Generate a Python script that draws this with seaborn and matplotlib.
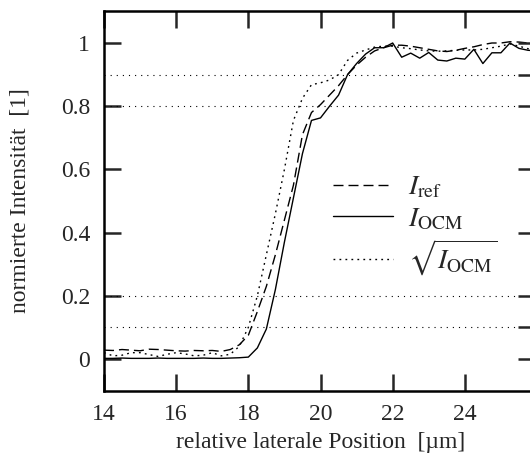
import numpy as np
import pandas as pd
import seaborn as sns
import matplotlib
matplotlib.use("Agg")
import matplotlib.pyplot as plt

# lateral positions (µm)
position = [14.00, 14.25, 14.50, 14.75, 15.00, 15.25, 15.50, 15.75, 16.00, 16.25,
            16.50, 16.75, 17.00, 17.25, 17.50, 17.75, 18.00, 18.25, 18.50, 18.75,
            19.00, 19.25, 19.50, 19.75, 20.00, 20.25, 20.50, 20.75, 21.00, 21.25,
            21.50, 21.75, 22.00, 22.25, 22.50, 22.75, 23.00, 23.25, 23.50, 23.75,
            24.00, 24.25, 24.50, 24.75, 25.00, 25.25, 25.50, 25.75, 26.00]

# reference intensity
i_ref = [0.028, 0.027, 0.030, 0.028, 0.026, 0.031, 0.030, 0.028, 0.026, 0.025,
         0.027, 0.026, 0.027, 0.024, 0.030, 0.045, 0.075, 0.150, 0.230, 0.330,
         0.440, 0.550, 0.710, 0.780, 0.805, 0.835, 0.865, 0.900, 0.930, 0.955,
         0.975, 0.985, 0.993, 0.993, 0.990, 0.985, 0.980, 0.975, 0.973, 0.977,
         0.983, 0.988, 0.995, 1.000, 1.000, 1.004, 1.003, 1.000, 1.000]

# OCM intensity
i_ocm = [0.002, 0.002, 0.003, 0.002, 0.002, 0.002, 0.003, 0.002, 0.002, 0.002,
         0.002, 0.003, 0.002, 0.002, 0.003, 0.004, 0.006, 0.035, 0.095, 0.220,
         0.370, 0.510, 0.650, 0.755, 0.763, 0.800, 0.835, 0.900, 0.935, 0.965,
         0.985, 0.985, 1.000, 0.955, 0.968, 0.952, 0.970, 0.946, 0.943, 0.952,
         0.949, 0.980, 0.935, 0.969, 0.969, 1.000, 0.983, 0.977, 0.975]

# square root of the OCM intensity
sqrt_ocm = [0.020, 0.010, 0.012, 0.020, 0.020, 0.014, 0.008, 0.015, 0.020, 0.016,
            0.010, 0.012, 0.020, 0.010, 0.015, 0.040, 0.100, 0.200, 0.330, 0.460,
            0.600, 0.755, 0.825, 0.868, 0.874, 0.883, 0.900, 0.945, 0.968, 0.978,
            0.987, 0.990, 0.990, 0.985, 0.982, 0.978, 0.975, 0.974, 0.975, 0.977,
            0.978, 0.978, 0.980, 0.985, 0.990, 0.997, 0.990, 0.982, 0.980]

x_ticks = [14, 16, 18, 20, 22, 24]
y_ticks = [0, 0.2, 0.4, 0.6, 0.8, 1]
y_ticks_right = [0, 0.1, 0.2, 0.4, 0.6, 0.8, 0.9, 1]
guide_levels = [0.1, 0.2, 0.8, 0.9]

labels = [r"$I_{\mathrm{ref}}$", r"$I_{\mathrm{OCM}}$", r"$\sqrt{I_{\mathrm{OCM}}}$"]

sns.set_style("white")
plt.rcParams["font.family"] = ["Liberation Serif", "DejaVu Serif"]
plt.rcParams["mathtext.fontset"] = "stix"

df = pd.DataFrame({"pos": position, "ref": i_ref, "ocm": i_ocm, "sqrt": sqrt_ocm})

fig = plt.figure(figsize=(5.30, 4.61), dpi=100)
W, H = 530, 461
left, right, top, bottom = 104, 537, 11.4, 390.6
ax = fig.add_axes([left / W, 1 - bottom / H, (right - left) / W, (bottom - top) / H])

# dotted guide levels
for lvl in guide_levels:
    ax.axhline(lvl, color="black", lw=0.8, linestyle=(0, (1.0, 4.5)), zorder=1)

sns.lineplot(data=df, x="pos", y="ref", ax=ax, color="black", lw=1.0,
             linestyle=(0, (7.2, 3.6)), label=labels[0], zorder=3)
sns.lineplot(data=df, x="pos", y="ocm", ax=ax, color="black", lw=1.0,
             linestyle="-", label=labels[1], zorder=3)
sns.lineplot(data=df, x="pos", y="sqrt", ax=ax, color="black", lw=1.0,
             linestyle=(0, (1.3, 3.0)), label=labels[2], zorder=3)

ax.set_xlim(14, 26)
ax.set_ylim(-0.1, 1.1)
ax.set_xticks(x_ticks)
ax.set_xticklabels([str(t) for t in x_ticks])
ax.set_yticks(y_ticks)
ax.set_yticklabels(["0", "0.2", "0.4", "0.6", "0.8", "1"])

for s in ax.spines.values():
    s.set_linewidth(1.8)
    s.set_color("black")
ax.spines["right"].set_visible(False)

ax.tick_params(axis="x", direction="in", length=12.5, width=1.8, labelsize=17,
               top=True, bottom=True, pad=10)
ax.tick_params(axis="y", direction="in", length=12.5, width=1.8, labelsize=17,
               left=True, right=False, pad=10)

# right-hand ticks also mark the guide levels
ax_r = ax.twinx()
ax_r.set_ylim(-0.1, 1.1)
ax_r.set_yticks(y_ticks_right)
ax_r.set_yticklabels([])
ax_r.tick_params(axis="y", direction="in", length=14, width=1.8, right=True)
for s in ax_r.spines.values():
    s.set_visible(False)
ax_r.grid(False)

ax.set_xlabel("relative laterale Position  [µm]", fontsize=17, labelpad=4.5)
ax.set_ylabel("normierte Intensität  [1]", fontsize=17, labelpad=22)

ax.legend(loc="upper left", bbox_to_anchor=(0.529, 0.568), frameon=False,
          fontsize=20, handlelength=2.16, handletextpad=0.55, labelspacing=0.2,
          borderpad=0, borderaxespad=0)

fig.savefig("out.png", dpi=100)
